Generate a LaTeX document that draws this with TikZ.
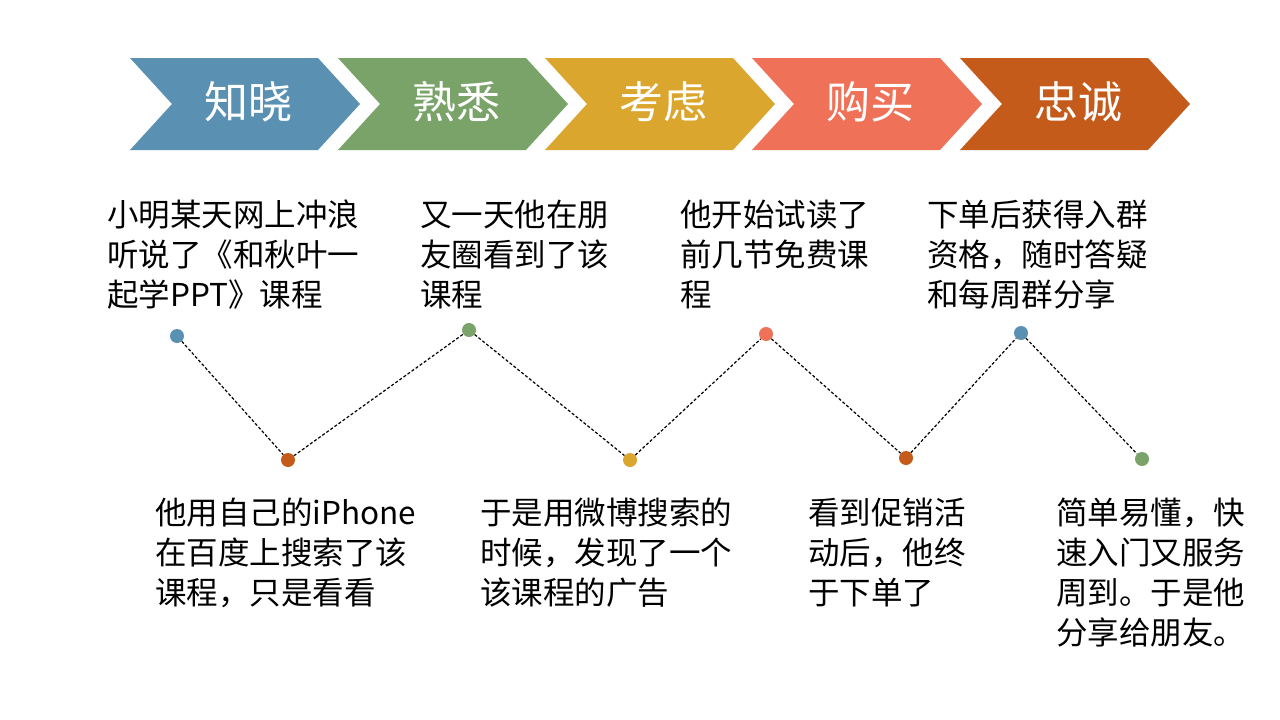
\documentclass[tikz,border=0pt]{standalone}
\usepackage{fontspec}
\setmainfont{Noto Sans CJK SC}
\definecolor{cblue}{HTML}{5A90B2}
\definecolor{cgreen}{HTML}{7AA36A}
\definecolor{cgold}{HTML}{DBA62E}
\definecolor{ccoral}{HTML}{EE7158}
\definecolor{corange}{HTML}{C45B1B}
\begin{document}
\begin{tikzpicture}[x=1pt,y=-1pt,
  stage/.style={font=\fontsize{44}{50}\selectfont, text=white},
  story/.style={anchor=north west, align=left, inner sep=0pt, font=\fontsize{31.5}{40}\selectfont},
  dot/.style={circle, inner sep=0pt, minimum size=14pt}]
\useasboundingbox (0,0) rectangle (1280,720);

% Chevrons
\foreach \x/\c/\t [count=\i] in {130/cblue/知晓, 338/cgreen/熟悉, 545/cgold/考虑, 752/ccoral/购买, 960/corange/忠诚} {
  \fill[\c] (\x,58) -- (\x+188,58) -- (\x+230,104) -- (\x+188,150) -- (\x,150) -- (\x+42,104) -- cycle;
  \node[stage] (stage\i) at (\x+118,102) {\t};
}

% Dots
\node[dot, fill=cblue] (d1) at (177,336) {};
\node[dot, fill=corange] (d2) at (288,460) {};
\node[dot, fill=cgreen] (d3) at (469,330) {};
\node[dot, fill=cgold] (d4) at (630,460) {};
\node[dot, fill=ccoral] (d5) at (766,334) {};
\node[dot, fill=corange] (d6) at (906,458) {};
\node[dot, fill=cblue] (d7) at (1021,333) {};
\node[dot, fill=cgreen] (d8) at (1142,459) {};
\foreach \a/\b in {d1/d2, d2/d3, d3/d4, d4/d5, d5/d6, d6/d7, d7/d8}
  \draw[dash pattern=on 3pt off 2pt, line width=1.2pt] (\a) -- (\b);

% Stories
\node[story] (s1) at (107,200) {小明某天网上冲浪\\听说了《和秋叶一\\起学PPT》课程};
\node[story] (s3) at (420,200) {又一天他在朋\\友圈看到了该\\课程};
\node[story] (s5) at (680,200) {他开始试读了\\前几节免费课\\程};
\node[story] (s7) at (927,200) {下单后获得入群\\资格，随时答疑\\和每周群分享};
\node[story] (s2) at (155,498) {他用自己的iPhone\\在百度上搜索了该\\课程，只是看看};
\node[story] (s4) at (480,498) {于是用微博搜索的\\时候，发现了一个\\该课程的广告};
\node[story] (s6) at (808,498) {看到促销活\\动后，他终\\于下单了};
\node[story] (s8) at (1056,498) {简单易懂，快\\速入门又服务\\周到。于是他\\分享给朋友。};
\end{tikzpicture}
\end{document}
